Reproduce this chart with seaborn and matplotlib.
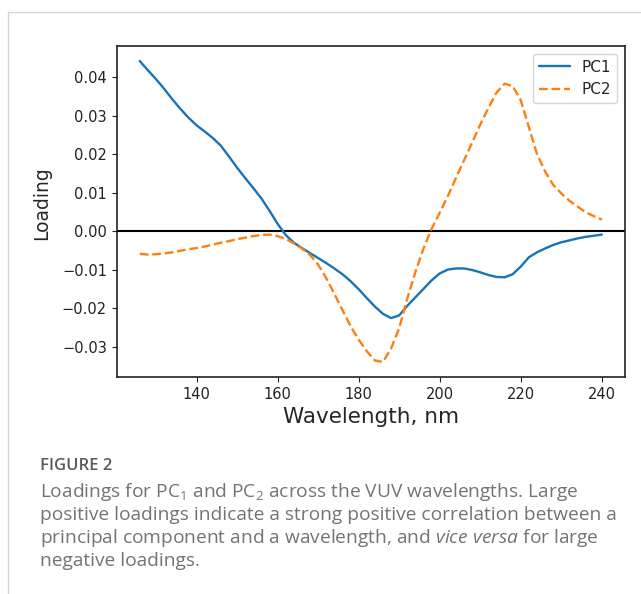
import matplotlib
matplotlib.use("Agg")
import matplotlib.pyplot as plt
from matplotlib.lines import Line2D
import seaborn as sns
import pandas as pd

wavelength = list(range(126, 241, 2))

pc1 = [0.0442, 0.0418, 0.0395, 0.0370, 0.0343, 0.0318, 0.0295, 0.0275, 0.0259, 0.0242,
       0.0222, 0.0194, 0.0165, 0.0138, 0.0112, 0.0085, 0.0053, 0.0019, -0.0010, -0.0030,
       -0.0044, -0.0057, -0.0070, -0.0083, -0.0097, -0.0112, -0.0130, -0.0151, -0.0174, -0.0196,
       -0.0215, -0.0226, -0.0219, -0.0194, -0.0172, -0.0150, -0.0128, -0.0110, -0.0100, -0.0097,
       -0.0097, -0.0101, -0.0107, -0.0114, -0.0119, -0.0120, -0.0112, -0.0092, -0.0068, -0.0055,
       -0.0045, -0.0036, -0.0029, -0.0024, -0.0019, -0.0015, -0.0012, -0.0009]

pc2 = [-0.0059, -0.0061, -0.0060, -0.0058, -0.0055, -0.0051, -0.0047, -0.0044, -0.0040, -0.0035,
       -0.0030, -0.0026, -0.0021, -0.0017, -0.0013, -0.0010, -0.0009, -0.0013, -0.0020, -0.0032,
       -0.0045, -0.0062, -0.0087, -0.0122, -0.0163, -0.0205, -0.0247, -0.0282, -0.0312, -0.0336,
       -0.0340, -0.0305, -0.0252, -0.0175, -0.0106, -0.0045, 0.0006, 0.0048, 0.0091, 0.0138,
       0.0184, 0.0230, 0.0277, 0.0320, 0.0360, 0.0383, 0.0377, 0.0340, 0.0270, 0.0200,
       0.0155, 0.0120, 0.0098, 0.0079, 0.0064, 0.0049, 0.0039, 0.0030]

components = ["PC1", "PC2"]
colors = ["#1874b6", "#ff7f0e"]

df = pd.DataFrame({
    "Wavelength": wavelength * 2,
    "Loading": pc1 + pc2,
    "Component": ["PC1"] * len(pc1) + ["PC2"] * len(pc2),
})

sns.set_style("ticks")
plt.rcParams["font.family"] = ["DejaVu Sans"]
plt.rcParams["mathtext.fontset"] = "custom"
plt.rcParams["mathtext.rm"] = "Open Sans"
plt.rcParams["mathtext.it"] = "Open Sans:italic"

fig = plt.figure(figsize=(6.41, 5.94), dpi=100)
ax = fig.add_axes([0.182, 0.3653, 0.793, 0.5573])

sns.lineplot(data=df, x="Wavelength", y="Loading", hue="Component", style="Component",
             palette=colors, dashes={"PC1": "", "PC2": (3.7, 1.6)}, linewidth=1.7, ax=ax)
ax.axhline(0, color="black", linewidth=1.5, zorder=0)

ax.set_xticks([140, 160, 180, 200, 220, 240])
ax.set_yticks([-0.03, -0.02, -0.01, 0.0, 0.01, 0.02, 0.03, 0.04])
ax.tick_params(labelsize=10.5, colors="#222222")
ax.set_xlabel("Wavelength, nm", fontsize=15.5)
ax.set_ylabel("Loading", fontsize=13.5)
ax.yaxis.set_label_coords(-0.128, 0.525)
for s in ax.spines.values():
    s.set_linewidth(1.2)
    s.set_color("#222222")
leg = ax.legend(loc="upper right", fontsize=11, title=None)

# page frame lines
fig.add_artist(Line2D([8 / 641, 1], [1 - 12 / 594] * 2, color="#d6d6d6", lw=1))
fig.add_artist(Line2D([8 / 641] * 2, [0, 1 - 12 / 594], color="#d6d6d6", lw=1))

cap = dict(fontsize=13.8, color="#737373", family="Open Sans")
fig.text(40 / 641, 1 - 466 / 594, "FIGURE 2", fontsize=12, color="#5a5a5a",
         family="Open Sans", weight="semibold", va="center")
lines = [
    r"Loadings for PC$_\mathrm{1}$ and PC$_\mathrm{2}$ across the VUV wavelengths. Large",
    "positive loadings indicate a strong positive correlation between a",
    r"principal component and a wavelength, and $\mathit{vice\ versa}$ for large",
    "negative loadings.",
]
for i, t in enumerate(lines):
    fig.text(40 / 641, 1 - (492 + 23 * i) / 594, t, va="center", **cap)

fig.savefig("out.png", dpi=100)
